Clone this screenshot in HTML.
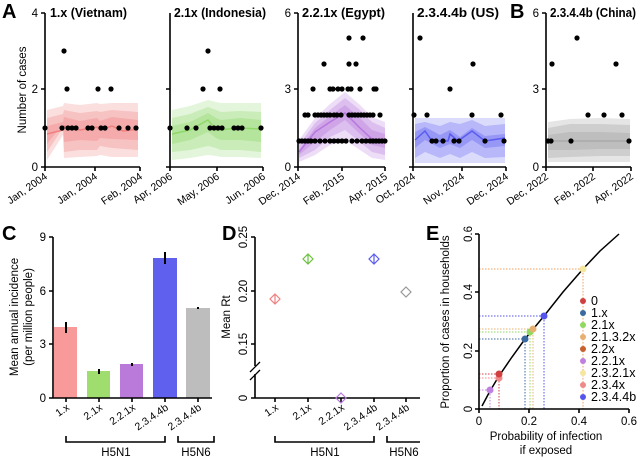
<!DOCTYPE html>
<html><head><meta charset="utf-8"><style>
body{margin:0;background:#fff}
svg{font-family:"Liberation Sans",Arial,sans-serif;display:block}
.ax{stroke:#000;stroke-width:1.6;fill:none}
.t{font-size:11.5px}
.tl{font-size:10.5px}
.h{font-size:13px;font-weight:bold}
.P{font-size:20px;font-weight:bold}
</style></head><body>
<svg width="640" height="460" viewBox="0 0 640 460">
<text x="2" y="18" class="P">A</text>
<text x="510" y="18" class="P">B</text>
<text x="2" y="240" class="P">C</text>
<text x="222" y="240" class="P">D</text>
<text x="426" y="240" class="P">E</text>

<!-- ===== Panel A ===== -->
<text transform="translate(26,90) rotate(-90)" class="t" text-anchor="middle" font-size="12">Number of cases</text>
<g fill="#f08080">
<polygon opacity="0.25" points="47,110 63,106 64,103 80,105 97,103 100,104 112,103 138,103 138,157 112,157 100,155 97,156 80,157 64,158 63,135 47,160"/>
<polygon opacity="0.3" points="47,118 63,114 64,110 80,113 97,111 100,112 112,110 138,112 138,150 112,148 100,146 97,150 80,150 64,152 63,128 47,152"/>
<polygon opacity="0.35" points="47,126 63,122 64,117 80,121 97,118 100,121 112,117 138,120 138,140 112,139 100,138 97,141 80,140 64,142 63,124 47,144"/>
</g>
<polyline points="47,134 63,130 64,126 80,130 97,127 100,130 112,126 123,131 138,129" fill="none" stroke="#f08080" stroke-width="1.5"/>
<g fill="#8fd86a">
<polygon opacity="0.25" points="172,110 190,106 208,100 216,102 221,103 240,103 261,103 261,158 240,157 221,157 216,156 208,155 190,158 172,160"/>
<polygon opacity="0.3" points="172,118 190,114 208,107 216,110 221,112 240,111 261,112 261,152 240,150 221,150 216,148 208,146 190,150 172,152"/>
<polygon opacity="0.35" points="172,126 190,122 208,113 216,118 221,120 240,118 261,120 261,142 240,140 221,140 216,138 208,132 190,140 172,144"/>
</g>
<polyline points="172,134 190,130 208,120 216,130 240,128 261,129" fill="none" stroke="#8fd86a" stroke-width="1.5"/>
<g fill="#b777de">
<polygon opacity="0.25" points="299,140 315,118 330,104 345,92 360,105 372,117 385,122 385,160 372,158 360,150 345,140 330,145 315,155 299,162"/>
<polygon opacity="0.3" points="299,145 315,123 330,110 345,98 360,110 372,122 385,128 385,155 372,152 360,142 345,130 330,137 315,150 299,158"/>
<polygon opacity="0.35" points="299,150 315,128 330,116 345,105 360,118 372,130 385,134 385,148 372,145 360,134 345,120 330,130 315,142 299,155"/>
</g>
<polyline points="299,152 315,132 330,122 345,113 360,128 372,139 385,141" fill="none" stroke="#b777de" stroke-width="1.5"/>
<g fill="#5b5bf0">
<polygon opacity="0.22" points="415,118 505,118 505,163 415,163"/>
<polygon opacity="0.28" points="415,124 425,122 440,126 450,122 460,124 472,120 485,126 505,124 505,157 485,158 472,152 460,158 450,154 440,158 425,152 415,158"/>
<polygon opacity="0.35" points="415,132 425,127 440,135 450,130 460,137 472,128 485,136 505,134 505,146 485,148 472,140 460,148 450,144 440,148 425,140 415,148"/>
</g>
<polyline points="415,140 425,131 432,141 448,141 450,134 458,141 472,131 485,141 505,138" fill="none" stroke="#5b5bf0" stroke-width="1.5"/>
<g fill="#999">
<polygon opacity="0.25" points="548,122 570,119 600,118 630,119 630,162 600,162 570,162 548,162"/>
<polygon opacity="0.3" points="548,128 570,124 600,124 630,125 630,156 600,156 570,157 548,158"/>
<polygon opacity="0.3" points="548,135 570,132 600,132 630,133 630,149 600,149 570,150 548,150"/>
</g>
<polyline points="548,141 600,141 630,141" fill="none" stroke="#aaa" stroke-width="1.5"/>

<g class="ax">
<path d="M45,13V167H140M41,13H45M41,89H45M41,167H45M45,167v4M95,167v4M140,167v4"/>
<path d="M170,13V167H263M166,89H170M166,167H170M170,167v4M217,167v4M263,167v4"/>
<path d="M298,13V167H385M294,13H298M294,89H298M294,167H298M298,167v4M342,167v4M385,167v4"/>
<path d="M413,13V167H506M409,89H413M409,167H413M413,167v4M462,167v4M506,167v4"/>
<path d="M546,13V167H631M542,13H546M542,89H546M542,167H546M546,167v4M593,167v4M631,167v4"/>
</g>
<g class="t" text-anchor="end">
<text x="38" y="17">4</text><text x="38" y="93">2</text><text x="38" y="171">0</text>
<text x="291" y="17">6</text><text x="291" y="93">3</text><text x="291" y="171">0</text>
<text x="539" y="17">6</text><text x="539" y="93">3</text><text x="539" y="171">0</text>
</g>
<g class="h">
<text x="50" y="17" textLength="77" lengthAdjust="spacingAndGlyphs">1.x (Vietnam)</text>
<text x="174" y="17" textLength="92" lengthAdjust="spacingAndGlyphs">2.1x (Indonesia)</text>
<text x="302" y="17" textLength="83" lengthAdjust="spacingAndGlyphs">2.2.1x (Egypt)</text>
<text x="417" y="17" textLength="82" lengthAdjust="spacingAndGlyphs">2.3.4.4b (US)</text>
<text x="550" y="17" textLength="86" lengthAdjust="spacingAndGlyphs">2.3.4.4b (China)</text>
</g>
<g class="tl" text-anchor="end">
<text transform="translate(48,178) rotate(-35)">Jan, 2004</text>
<text transform="translate(98,178) rotate(-35)">Jan, 2004</text>
<text transform="translate(143,178) rotate(-35)">Feb, 2004</text>
<text transform="translate(173,178) rotate(-35)">Apr, 2006</text>
<text transform="translate(220,178) rotate(-35)">May, 2006</text>
<text transform="translate(266,178) rotate(-35)">Jun, 2006</text>
<text transform="translate(301,178) rotate(-35)">Dec, 2014</text>
<text transform="translate(345,178) rotate(-35)">Feb, 2015</text>
<text transform="translate(388,178) rotate(-35)">Apr, 2015</text>
<text transform="translate(416,178) rotate(-35)">Oct, 2024</text>
<text transform="translate(465,178) rotate(-35)">Nov, 2024</text>
<text transform="translate(509,178) rotate(-35)">Dec, 2024</text>
<text transform="translate(549,178) rotate(-35)">Dec, 2022</text>
<text transform="translate(596,178) rotate(-35)">Feb, 2022</text>
<text transform="translate(634,178) rotate(-35)">Apr, 2022</text>
</g>
<g fill="#000">
<circle cx="45" cy="128" r="2.6"/><circle cx="62" cy="128" r="2.6"/><circle cx="68" cy="128" r="2.6"/><circle cx="72" cy="128" r="2.6"/><circle cx="76" cy="128" r="2.6"/><circle cx="88" cy="128" r="2.6"/><circle cx="92" cy="128" r="2.6"/><circle cx="101" cy="128" r="2.6"/><circle cx="105" cy="128" r="2.6"/><circle cx="119" cy="128" r="2.6"/><circle cx="128" cy="128" r="2.6"/><circle cx="136" cy="128" r="2.6"/>
<circle cx="67" cy="89" r="2.6"/><circle cx="98" cy="89" r="2.6"/><circle cx="111" cy="89" r="2.6"/><circle cx="64" cy="51" r="2.6"/>
<circle cx="170" cy="128" r="2.6"/><circle cx="187" cy="128" r="2.6"/><circle cx="196" cy="128" r="2.6"/><circle cx="210" cy="128" r="2.6"/><circle cx="214" cy="128" r="2.6"/><circle cx="218" cy="128" r="2.6"/><circle cx="222" cy="128" r="2.6"/><circle cx="234" cy="128" r="2.6"/><circle cx="238" cy="128" r="2.6"/><circle cx="242" cy="128" r="2.6"/><circle cx="261" cy="128" r="2.6"/>
<circle cx="203" cy="89" r="2.6"/><circle cx="220" cy="89" r="2.6"/><circle cx="208" cy="51" r="2.6"/>
<circle cx="299" cy="141" r="2.6"/><circle cx="302" cy="141" r="2.6"/><circle cx="305" cy="141" r="2.6"/><circle cx="308" cy="141" r="2.6"/><circle cx="311" cy="141" r="2.6"/><circle cx="315" cy="141" r="2.6"/><circle cx="320" cy="141" r="2.6"/><circle cx="325" cy="141" r="2.6"/><circle cx="330" cy="141" r="2.6"/><circle cx="334" cy="141" r="2.6"/><circle cx="338" cy="141" r="2.6"/><circle cx="342" cy="141" r="2.6"/><circle cx="346" cy="141" r="2.6"/><circle cx="352" cy="141" r="2.6"/><circle cx="357" cy="141" r="2.6"/><circle cx="362" cy="141" r="2.6"/><circle cx="366" cy="141" r="2.6"/><circle cx="370" cy="141" r="2.6"/><circle cx="373" cy="141" r="2.6"/><circle cx="376" cy="141" r="2.6"/><circle cx="379" cy="141" r="2.6"/><circle cx="382" cy="141" r="2.6"/><circle cx="385" cy="141" r="2.6"/>
<circle cx="305" cy="115" r="2.6"/><circle cx="308" cy="115" r="2.6"/><circle cx="315" cy="115" r="2.6"/><circle cx="318" cy="115" r="2.6"/><circle cx="321" cy="115" r="2.6"/><circle cx="324" cy="115" r="2.6"/><circle cx="327" cy="115" r="2.6"/><circle cx="330" cy="115" r="2.6"/><circle cx="334" cy="115" r="2.6"/><circle cx="337" cy="115" r="2.6"/><circle cx="341" cy="115" r="2.6"/><circle cx="349" cy="115" r="2.6"/><circle cx="352" cy="115" r="2.6"/><circle cx="355" cy="115" r="2.6"/><circle cx="358" cy="115" r="2.6"/><circle cx="361" cy="115" r="2.6"/><circle cx="364" cy="115" r="2.6"/><circle cx="367" cy="115" r="2.6"/><circle cx="370" cy="115" r="2.6"/><circle cx="373" cy="115" r="2.6"/><circle cx="380" cy="115" r="2.6"/>
<circle cx="313" cy="89" r="2.6"/><circle cx="330" cy="89" r="2.6"/><circle cx="333" cy="89" r="2.6"/><circle cx="338" cy="89" r="2.6"/><circle cx="342" cy="89" r="2.6"/><circle cx="348" cy="89" r="2.6"/><circle cx="351" cy="89" r="2.6"/><circle cx="360" cy="89" r="2.6"/><circle cx="374" cy="89" r="2.6"/><circle cx="376" cy="89" r="2.6"/>
<circle cx="324" cy="64" r="2.6"/><circle cx="349" cy="64" r="2.6"/><circle cx="356" cy="64" r="2.6"/>
<circle cx="349" cy="38" r="2.6"/><circle cx="363" cy="38" r="2.6"/>
<circle cx="414" cy="115" r="2.6"/><circle cx="420" cy="38" r="2.6"/><circle cx="427" cy="115" r="2.6"/><circle cx="432" cy="141" r="2.6"/><circle cx="436" cy="141" r="2.6"/><circle cx="443" cy="141" r="2.6"/><circle cx="450" cy="89" r="2.6"/><circle cx="454" cy="141" r="2.6"/><circle cx="459" cy="141" r="2.6"/><circle cx="472" cy="115" r="2.6"/><circle cx="473" cy="64" r="2.6"/><circle cx="485" cy="141" r="2.6"/><circle cx="501" cy="115" r="2.6"/><circle cx="504" cy="141" r="2.6"/>
<circle cx="548" cy="141" r="2.6"/><circle cx="551" cy="141" r="2.6"/><circle cx="552" cy="64" r="2.6"/><circle cx="571" cy="141" r="2.6"/><circle cx="577" cy="38" r="2.6"/><circle cx="588" cy="115" r="2.6"/><circle cx="604" cy="115" r="2.6"/><circle cx="616" cy="64" r="2.6"/><circle cx="622" cy="115" r="2.6"/><circle cx="629" cy="141" r="2.6"/>
</g>

<!-- ===== Panel C ===== -->
<rect x="54" y="327" width="23" height="71" fill="#f89a9a"/>
<rect x="87" y="371" width="23" height="27" fill="#9edd6e"/>
<rect x="120" y="364" width="23" height="34" fill="#b97ad9"/>
<rect x="153" y="258" width="24" height="140" fill="#6060ef"/>
<rect x="186" y="308" width="24" height="90" fill="#bdbdbd"/>
<g stroke="#000" stroke-width="2">
<path d="M66,322V333M99,369V374M132,363V366M165,252V264M198,307V309"/>
</g>
<g class="ax">
<path d="M53,237V398H212M49,237H53M49,291H53M49,344H53M49,398H53M66,398v4M99,398v4M132,398v4M165,398v4M198,398v4"/>
<path d="M66,436V442H165V436M178,436V442H214V436"/>
</g>
<g class="t" text-anchor="end">
<text x="46" y="241">9</text><text x="46" y="295">6</text><text x="46" y="348">3</text><text x="46" y="402">0</text>
</g>
<text transform="translate(18,317) rotate(-90)" class="t" text-anchor="middle" font-size="12">Mean annual incidence</text>
<text transform="translate(32,317) rotate(-90)" class="t" text-anchor="middle" font-size="12">(per million people)</text>
<g class="tl" text-anchor="end">
<text transform="translate(70,409) rotate(-35)">1.x</text>
<text transform="translate(103,409) rotate(-35)">2.1x</text>
<text transform="translate(136,409) rotate(-35)">2.2.1x</text>
<text transform="translate(169,409) rotate(-35)">2.3.4.4b</text>
<text transform="translate(202,409) rotate(-35)">2.3.4.4b</text>
</g>
<text x="116" y="456" class="t" text-anchor="middle">H5N1</text>
<text x="196" y="456" class="t" text-anchor="middle">H5N6</text>

<!-- ===== Panel D ===== -->
<g class="ax">
<path d="M255,237V366M255,374V398H420M251,237H255M251,291H255M251,344H255M251,398H255M275,398v4M308,398v4M341,398v4M374,398v4M406,398v4"/>
<path d="M250,372L260,362M250,380L260,370" stroke-width="1.3"/>
<path d="M275,436V442H374V436M387,436V442H420"/>
</g>
<g class="t" text-anchor="middle">
<text transform="translate(247,237) rotate(-90)">0.25</text>
<text transform="translate(247,291) rotate(-90)">0.20</text>
<text transform="translate(247,344) rotate(-90)">0.15</text>
<text transform="translate(247,398) rotate(-90)">0</text>
</g>
<text transform="translate(230,317) rotate(-90)" class="t" text-anchor="middle" font-size="12">Mean Rt</text>
<g fill="none" stroke-width="1.2">
<path d="M275,294l5,5l-5,5l-5,-5z M275,294v10" stroke="#f08080"/>
<path d="M308,254l5,5l-5,5l-5,-5z M308,254v10" stroke="#6cc040"/>
<path d="M341,393l5,5l-5,5l-5,-5z" stroke="#b777de"/>
<path d="M374,254l5,5l-5,5l-5,-5z M374,254v10" stroke="#5b5bf0"/>
<path d="M406,287l5,5l-5,5l-5,-5z" stroke="#999"/>
</g>
<g class="tl" text-anchor="end">
<text transform="translate(279,409) rotate(-35)">1.x</text>
<text transform="translate(312,409) rotate(-35)">2.1x</text>
<text transform="translate(345,409) rotate(-35)">2.2.1x</text>
<text transform="translate(378,409) rotate(-35)">2.3.4.4b</text>
<text transform="translate(410,409) rotate(-35)">2.3.4.4b</text>
</g>
<text x="325" y="456" class="t" text-anchor="middle">H5N1</text>
<text x="404" y="456" class="t" text-anchor="middle">H5N6</text>

<!-- ===== Panel E ===== -->
<g fill="none" stroke-width="1" stroke-dasharray="1.5,1.5">
<path d="M479,390H490V409" stroke="#c080e0"/>
<path d="M479,374H499V409" stroke="#d04040"/>
<path d="M479,378H499" stroke="#f08a8a"/>
<path d="M479,339H525V409" stroke="#3a6aa0"/>
<path d="M479,332H530V409" stroke="#90d860"/>
<path d="M479,329H533V409" stroke="#e8b070"/>
<path d="M479,316H544V409" stroke="#5555ee"/>
<path d="M479,269H583V409" stroke="#f0a060"/>
</g>
<polyline points="482,406 490,391 499,376 512,357 525,339 544,316 563,292 583,269 600,251 619,234" fill="none" stroke="#000" stroke-width="1.5"/>
<g>
<circle cx="490" cy="390" r="3.5" fill="#c080e0"/>
<circle cx="499" cy="378" r="3.5" fill="#f08a8a"/>
<circle cx="499" cy="374" r="3.5" fill="#d04040"/>
<circle cx="525" cy="339" r="3.5" fill="#3a6aa0"/>
<circle cx="530" cy="332" r="3.5" fill="#90d860"/>
<circle cx="533" cy="329" r="3.5" fill="#e8b070"/>
<circle cx="544" cy="316" r="3.5" fill="#5555ee"/>
<circle cx="583" cy="269" r="3.5" fill="#f5e6a0"/>
</g>
<g class="ax">
<path d="M479,234V409H629M475,234H479M475,292H479M475,351H479M475,409H479M479,409v4M529,409v4M579,409v4M629,409v4"/>
</g>
<g class="t" text-anchor="middle">
<text transform="translate(472,234) rotate(-90)">0.6</text>
<text transform="translate(472,292) rotate(-90)">0.4</text>
<text transform="translate(472,351) rotate(-90)">0.2</text>
<text transform="translate(472,409) rotate(-90)">0</text>
<text x="479" y="425">0</text><text x="529" y="425">0.2</text><text x="579" y="425">0.4</text><text x="629" y="425">0.6</text>
</g>
<text transform="translate(449,322) rotate(-90)" class="t" text-anchor="middle" font-size="12">Proportion of cases in households</text>
<text x="546" y="440" class="t" text-anchor="middle" font-size="12">Probability of infection</text>
<text x="546" y="454" class="t" text-anchor="middle" font-size="12">if exposed</text>
<g font-size="12.5">
<circle cx="583" cy="301" r="3" fill="#d04040"/><text x="591" y="305">0</text>
<circle cx="583" cy="313" r="3" fill="#3a6aa0"/><text x="591" y="317">1.x</text>
<circle cx="583" cy="325" r="3" fill="#90d860"/><text x="591" y="329">2.1x</text>
<circle cx="583" cy="337" r="3" fill="#e8b070"/><text x="591" y="341">2.1.3.2x</text>
<circle cx="583" cy="349" r="3" fill="#c86030"/><text x="591" y="353">2.2x</text>
<circle cx="583" cy="361" r="3" fill="#c080e0"/><text x="591" y="365">2.2.1x</text>
<circle cx="583" cy="373" r="3" fill="#f5e6a0"/><text x="591" y="377">2.3.2.1x</text>
<circle cx="583" cy="385" r="3" fill="#f08a8a"/><text x="591" y="389">2.3.4x</text>
<circle cx="583" cy="397" r="3" fill="#5555ee"/><text x="591" y="401">2.3.4.4b</text>
</g>
</svg>
</body></html>
